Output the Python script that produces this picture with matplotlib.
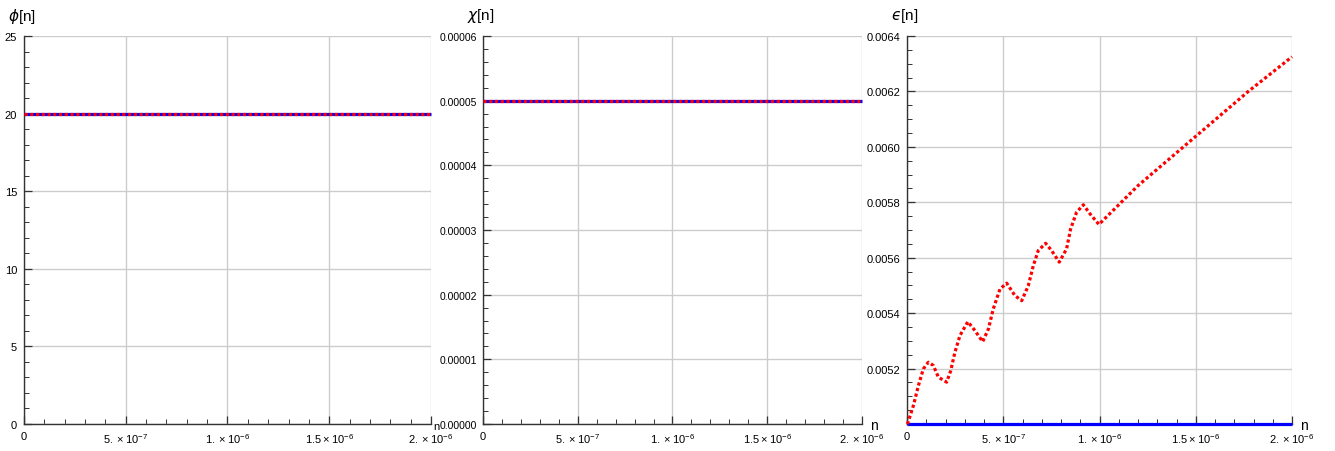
import matplotlib.pyplot as plt
from matplotlib.ticker import MultipleLocator

plt.rcParams['font.family'] = ['Liberation Sans', 'DejaVu Sans']
plt.rcParams['mathtext.fontset'] = 'custom'
plt.rcParams['mathtext.rm'] = 'Liberation Sans'
plt.rcParams['mathtext.it'] = 'DejaVu Sans:italic'

# x range (n) shared by all three panels
n_range = [0.0, 2e-6]
x_ticks = [0.0, 5e-7, 1e-6, 1.5e-6, 2e-6]
x_labels = ['0', r'$5.\times10^{-7}$', r'$1.\times10^{-6}$', r'$1.5\times10^{-6}$', r'$2.\times10^{-6}$']

# panel 1: phi[n], both curves constant
phi_blue = [20.0, 20.0]
phi_red = [20.0, 20.0]
phi_ticks = [0, 5, 10, 15, 20, 25]
phi_labels = ['0', '5', '10', '15', '20', '25']

# panel 2: chi[n], both curves constant
chi_blue = [0.00005, 0.00005]
chi_red = [0.00005, 0.00005]
chi_ticks = [0.0, 0.00001, 0.00002, 0.00003, 0.00004, 0.00005, 0.00006]
chi_labels = ['0.00000', '0.00001', '0.00002', '0.00003', '0.00004', '0.00005', '0.00006']

# panel 3: epsilon[n]
eps_blue = [0.005, 0.005]
eps_n = [0.0, 0.005e-6, 0.033e-6, 0.059e-6, 0.085e-6, 0.111e-6, 0.137e-6, 0.163e-6,
         0.206e-6, 0.227e-6, 0.249e-6, 0.275e-6, 0.316e-6, 0.353e-6, 0.393e-6,
         0.423e-6, 0.448e-6, 0.483e-6, 0.518e-6, 0.561e-6, 0.596e-6, 0.630e-6,
         0.656e-6, 0.682e-6, 0.720e-6, 0.751e-6, 0.791e-6, 0.829e-6, 0.850e-6,
         0.881e-6, 0.916e-6, 0.951e-6, 0.997e-6, 1.2e-6, 1.436e-6, 1.773e-6, 2.0e-6]
eps_red = [0.005, 0.005005, 0.005066, 0.005138, 0.005199, 0.005223, 0.005211, 0.005169,
           0.005151, 0.005192, 0.005259, 0.005319, 0.005369, 0.005337, 0.005297,
           0.005343, 0.005415, 0.005487, 0.005508, 0.005463, 0.005445, 0.005499,
           0.005571, 0.005626, 0.005652, 0.005626, 0.005584, 0.005632, 0.005704,
           0.005764, 0.005791, 0.005758, 0.005720, 0.005860, 0.006000, 0.006200, 0.006325]
eps_ticks = [0.0052, 0.0054, 0.0056, 0.0058, 0.0060, 0.0062, 0.0064]
eps_labels = ['0.0052', '0.0054', '0.0056', '0.0058', '0.0060', '0.0062', '0.0064']

W, H = 1335, 452
fig = plt.figure(figsize=(W / 100, H / 100), dpi=100)

boxes = [(24, 431), (483, 862), (907, 1292)]
top, bottom = 37, 425

panels = [
    (n_range, phi_blue, n_range, phi_red, (0, 25), phi_ticks, phi_labels, 1, r'$\phi$[n]'),
    (n_range, chi_blue, n_range, chi_red, (0, 0.00006), chi_ticks, chi_labels, 0.000002, r'$\chi$[n]'),
    (n_range, eps_blue, eps_n, eps_red, (0.005, 0.0064), eps_ticks, eps_labels, 0.00005, '$\u03f5$[n]'),
]

for i, ((l, r), (xb, yb, xr, yr, ylim, yt, yl, yminor, lab)) in enumerate(zip(boxes, panels)):
    ax = fig.add_axes([l / W, (H - bottom) / H, (r - l) / W, (bottom - top) / H])
    ax.plot(xb, yb, color='#0000ff', lw=2.3, solid_capstyle='butt', zorder=3, clip_on=False)
    ax.plot(xr, yr, color='#ff0000', lw=2.3, linestyle=(0, (1.0, 0.8)),
            dash_capstyle='butt', zorder=4, clip_on=False)
    ax.set_xlim(n_range)
    ax.set_ylim(ylim)
    ax.set_xticks(x_ticks)
    ax.set_xticklabels(x_labels)
    ax.xaxis.set_minor_locator(MultipleLocator(1e-7))
    ax.set_yticks(yt)
    ax.set_yticklabels(yl)
    ax.yaxis.set_minor_locator(MultipleLocator(yminor))
    ax.grid(True, which='major', color='#cccccc', lw=1.0)
    ax.set_axisbelow(True)
    for s in ['top', 'right']:
        ax.spines[s].set_visible(False)
    for s in ['left', 'bottom']:
        ax.spines[s].set_color('#333333')
        ax.spines[s].set_linewidth(1.0)
    ax.tick_params(which='major', direction='in', length=6, width=0.9, labelsize=8,
                   colors='#333333', labelcolor='black', pad=5)
    ax.tick_params(which='minor', direction='in', length=3.5, width=0.7, colors='#333333')
    if i == 1:
        ax.tick_params(axis='y', labelsize=7.5, pad=4)
    ax.annotate(lab, xy=(0, 1), xycoords='axes fraction', xytext=(-2, 21),
                textcoords='offset pixels', ha='center', va='center', fontsize=11)
    if i == 0:
        # squeezed between this panel's last tick label and the next panel's axis
        ax.annotate('n', xy=(1, 0), xycoords='axes fraction', xytext=(5, -2),
                    textcoords='offset pixels', ha='center', va='center', fontsize=8)
    else:
        ax.annotate('n', xy=(1, 0), xycoords='axes fraction', xytext=(12, -1),
                    textcoords='offset pixels', ha='center', va='center', fontsize=10)

fig.savefig('out.png', dpi=100)
